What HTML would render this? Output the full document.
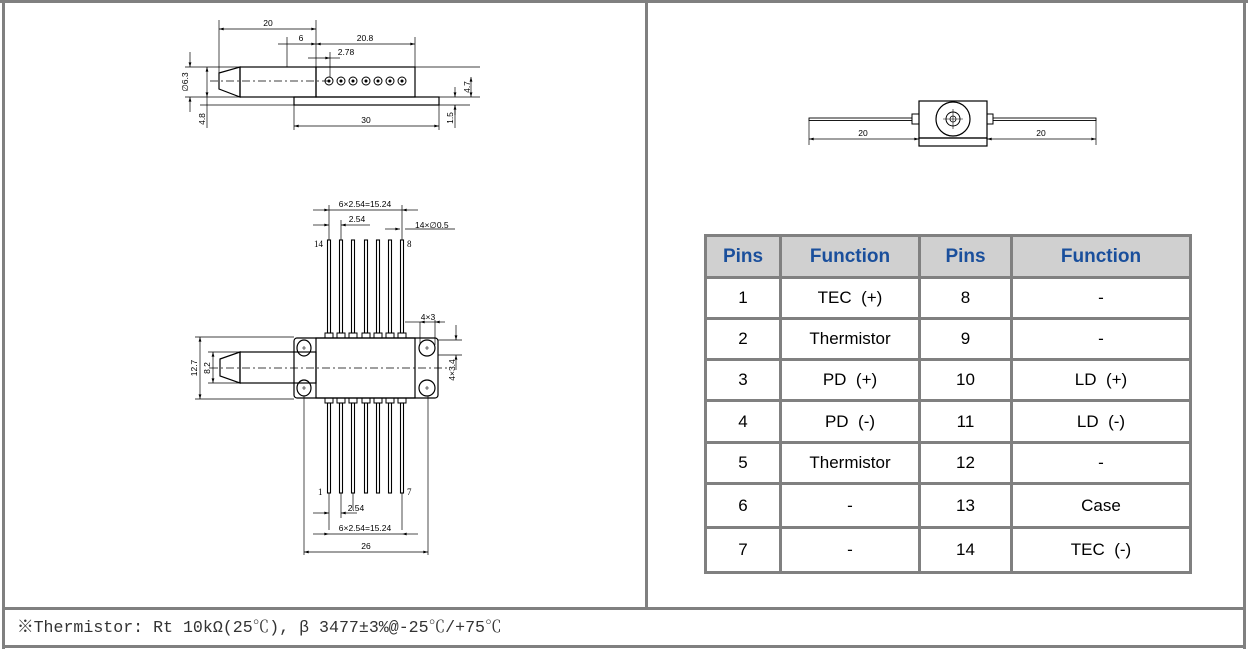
<!DOCTYPE html>
<html><head><meta charset="utf-8"><style>
html,body{margin:0;padding:0;background:#fff;}
body{width:1248px;height:654px;position:relative;overflow:hidden;font-family:"Liberation Sans",Arial,sans-serif;}
.b{position:absolute;background:#808080;}
.grid{position:absolute;left:704px;top:234px;display:grid;grid-template-columns:72px 136px 89px 176px;grid-template-rows:39px 38px 38px 38px 39px 38px 41px 42px;gap:3px;padding:3px;background:#808080;}
.grid div{background:#fff;display:flex;align-items:center;justify-content:center;font-size:17px;color:#000;line-height:20px;}
.grid div.h{background:#d0d0d0;color:#1a4f9c;font-weight:bold;font-size:19px;}
.foot{position:absolute;left:17px;top:618px;font-family:"Liberation Mono","Noto Serif CJK SC",monospace;font-size:16.6px;color:#333;white-space:nowrap;line-height:20px;}
svg{position:absolute;left:0;top:0;}
</style></head><body>
<div class="b" style="left:0;top:0;width:1248px;height:3px"></div>
<div class="b" style="left:2px;top:0;width:3px;height:649px"></div>
<div class="b" style="left:1243px;top:0;width:3px;height:649px"></div>
<div class="b" style="left:2px;top:645px;width:1244px;height:3px"></div>
<div class="b" style="left:645px;top:0;width:3px;height:609px"></div>
<div class="b" style="left:2px;top:607px;width:1244px;height:3px"></div>

<div class="grid">
<div class="h">Pins</div><div class="h">Function</div><div class="h">Pins</div><div class="h">Function</div>
<div>1</div><div>TEC&nbsp;&nbsp;(+)</div><div>8</div><div>-</div>
<div>2</div><div>Thermistor</div><div>9</div><div>-</div>
<div>3</div><div>PD&nbsp;&nbsp;(+)</div><div>10</div><div>LD&nbsp;&nbsp;(+)</div>
<div>4</div><div>PD&nbsp;&nbsp;(-)</div><div>11</div><div>LD&nbsp;&nbsp;(-)</div>
<div>5</div><div>Thermistor</div><div>12</div><div>-</div>
<div>6</div><div>-</div><div>13</div><div>Case</div>
<div>7</div><div>-</div><div>14</div><div>TEC&nbsp;&nbsp;(-)</div>
</div>

<div class="foot">※Thermistor: Rt 10kΩ(25℃), β 3477±3%@-25℃/+75℃</div>

<svg width="1248" height="654" viewBox="0 0 1248 654" font-family="Liberation Sans, Arial, sans-serif" font-size="8.5">
<defs>
<marker id="a" viewBox="0 0 10 6" refX="10" refY="3" markerWidth="8" markerHeight="4" orient="auto-start-reverse"><path d="M0,0 L10,3 L0,6 z" fill="#000"/></marker>
</defs>
<g stroke="#000" fill="none" stroke-width="0.7">
<path d="M219,73 L240,67 L240,97 L219,89 Z" stroke-width="1.2"/>
<rect x="240" y="67" width="76" height="30" stroke-width="1.2"/>
<rect x="316" y="67" width="99" height="30" stroke-width="1.2"/>
<rect x="294" y="97" width="145" height="8" stroke-width="1.2"/>
<line x1="210" y1="81" x2="330" y2="81" stroke-dasharray="8,3,2,3"/>
<g stroke-width="1">
<circle cx="329" cy="81" r="4"/><circle cx="341" cy="81" r="4"/><circle cx="353" cy="81" r="4"/><circle cx="366" cy="81" r="4"/><circle cx="378" cy="81" r="4"/><circle cx="390" cy="81" r="4"/><circle cx="402" cy="81" r="4"/>
</g>
<g fill="#000"><circle cx="329" cy="81" r="1.2"/><circle cx="341" cy="81" r="1.2"/><circle cx="353" cy="81" r="1.2"/><circle cx="366" cy="81" r="1.2"/><circle cx="378" cy="81" r="1.2"/><circle cx="390" cy="81" r="1.2"/><circle cx="402" cy="81" r="1.2"/></g>
<line x1="219" y1="20" x2="219" y2="73"/><line x1="316" y1="20" x2="316" y2="67"/><line x1="415" y1="37" x2="415" y2="67"/><line x1="287" y1="37" x2="287" y2="67"/><line x1="330" y1="52" x2="330" y2="77"/>
<line x1="219" y1="29" x2="316" y2="29" marker-start="url(#a)" marker-end="url(#a)"/>
<line x1="278" y1="44" x2="316" y2="44" marker-end="url(#a)"/>
<line x1="316" y1="44" x2="415" y2="44" marker-start="url(#a)" marker-end="url(#a)"/>
<line x1="308" y1="58" x2="330" y2="58" marker-end="url(#a)"/><line x1="330" y1="58" x2="340" y2="58"/>
<line x1="185" y1="67" x2="240" y2="67"/><line x1="185" y1="97" x2="294" y2="97"/><line x1="200" y1="105" x2="294" y2="105"/>
<line x1="190" y1="52" x2="190" y2="67" marker-end="url(#a)"/><line x1="190" y1="112" x2="190" y2="97" marker-end="url(#a)"/>
<line x1="207" y1="67" x2="207" y2="97" marker-start="url(#a)" marker-end="url(#a)"/><line x1="207" y1="97" x2="207" y2="128"/>
<line x1="415" y1="67" x2="480" y2="67"/><line x1="415" y1="97" x2="480" y2="97"/><line x1="439" y1="105" x2="470" y2="105"/>
<line x1="471" y1="77" x2="471" y2="97" marker-start="url(#a)" marker-end="url(#a)"/>
<line x1="455" y1="87" x2="455" y2="97" marker-end="url(#a)"/><line x1="455" y1="115" x2="455" y2="105" marker-end="url(#a)"/><line x1="455" y1="105" x2="455" y2="128"/>
<line x1="294" y1="105" x2="294" y2="130"/><line x1="439" y1="105" x2="439" y2="130"/>
<line x1="294" y1="126" x2="439" y2="126" marker-start="url(#a)" marker-end="url(#a)"/>

<path d="M220,359 L240,352 L240,383 L220,376 Z" stroke-width="1.2"/>
<rect x="240" y="352" width="76" height="31" stroke-width="1.2"/>
<rect x="294" y="338" width="144" height="60" rx="3" stroke-width="1.2"/>
<rect x="316" y="338" width="99" height="60" stroke-width="1.2"/>
<line x1="210" y1="368" x2="450" y2="368" stroke-dasharray="8,3,2,3"/>
<g stroke-width="1.2">
<ellipse cx="304" cy="348" rx="7" ry="8"/><ellipse cx="304" cy="388" rx="7" ry="8"/>
<ellipse cx="427" cy="348" rx="8" ry="8"/><ellipse cx="427" cy="388" rx="8" ry="8"/>
</g>
<g stroke-width="0.6">
<path d="M302,348h4M304,346v4M302,388h4M304,386v4M425,348h4M427,346v4M425,388h4M427,386v4"/>
</g>
<g stroke-width="1">
<rect x="325" y="333" width="8" height="5"/><rect x="337" y="333" width="8" height="5"/><rect x="349" y="333" width="8" height="5"/><rect x="362" y="333" width="8" height="5"/><rect x="374" y="333" width="8" height="5"/><rect x="386" y="333" width="8" height="5"/><rect x="398" y="333" width="8" height="5"/>
<rect x="325" y="398" width="8" height="5"/><rect x="337" y="398" width="8" height="5"/><rect x="349" y="398" width="8" height="5"/><rect x="362" y="398" width="8" height="5"/><rect x="374" y="398" width="8" height="5"/><rect x="386" y="398" width="8" height="5"/><rect x="398" y="398" width="8" height="5"/>
</g>
<g stroke-width="1.1">
<rect x="327.5" y="240" width="3" height="93"/><rect x="339.5" y="240" width="3" height="93"/><rect x="351.5" y="240" width="3" height="93"/><rect x="364.5" y="240" width="3" height="93"/><rect x="376.5" y="240" width="3" height="93"/><rect x="388.5" y="240" width="3" height="93"/><rect x="400.5" y="240" width="3" height="93"/>
<rect x="327.5" y="403" width="3" height="90"/><rect x="339.5" y="403" width="3" height="90"/><rect x="351.5" y="403" width="3" height="90"/><rect x="364.5" y="403" width="3" height="90"/><rect x="376.5" y="403" width="3" height="90"/><rect x="388.5" y="403" width="3" height="90"/><rect x="400.5" y="403" width="3" height="90"/>
</g>
<line x1="329" y1="205" x2="329" y2="240"/><line x1="402" y1="205" x2="402" y2="240"/><line x1="341" y1="220" x2="341" y2="240"/>
<line x1="313" y1="210" x2="329" y2="210" marker-end="url(#a)"/><line x1="329" y1="210" x2="402" y2="210"/><line x1="418" y1="210" x2="402" y2="210" marker-end="url(#a)"/>
<line x1="313" y1="225" x2="329" y2="225" marker-end="url(#a)"/><line x1="357" y1="225" x2="341" y2="225" marker-end="url(#a)"/><line x1="357" y1="225" x2="370" y2="225"/>
<line x1="385" y1="229" x2="400" y2="229" marker-end="url(#a)"/><line x1="405" y1="229" x2="455" y2="229"/>
<line x1="405" y1="322" x2="420" y2="322"/>
<line x1="420" y1="322" x2="435" y2="322" marker-start="url(#a)"/><line x1="445" y1="322" x2="435" y2="322" marker-end="url(#a)"/>
<line x1="420" y1="322" x2="420" y2="345"/><line x1="435" y1="320" x2="435" y2="345"/>
<line x1="438" y1="340" x2="462" y2="340"/><line x1="438" y1="355" x2="462" y2="355"/>
<line x1="456" y1="325" x2="456" y2="340" marker-end="url(#a)"/><line x1="456" y1="370" x2="456" y2="355" marker-end="url(#a)"/>
<line x1="195" y1="337" x2="294" y2="337"/><line x1="195" y1="399" x2="294" y2="399"/>
<line x1="200" y1="337" x2="200" y2="399" marker-start="url(#a)" marker-end="url(#a)"/>
<line x1="208" y1="352" x2="240" y2="352"/><line x1="208" y1="383" x2="240" y2="383"/>
<line x1="213" y1="352" x2="213" y2="383" marker-start="url(#a)" marker-end="url(#a)"/>
<line x1="329" y1="493" x2="329" y2="530"/><line x1="402" y1="493" x2="402" y2="530"/><line x1="341" y1="493" x2="341" y2="518"/><line x1="353" y1="493" x2="353" y2="510"/>
<line x1="313" y1="513" x2="329" y2="513" marker-end="url(#a)"/><line x1="357" y1="513" x2="341" y2="513" marker-end="url(#a)"/>
<line x1="313" y1="534" x2="329" y2="534" marker-end="url(#a)"/><line x1="329" y1="534" x2="402" y2="534"/><line x1="418" y1="534" x2="402" y2="534" marker-end="url(#a)"/>
<line x1="304" y1="396" x2="304" y2="555"/><line x1="428" y1="396" x2="428" y2="555"/>
<line x1="304" y1="552" x2="428" y2="552" marker-start="url(#a)" marker-end="url(#a)"/>

<rect x="809" y="118" width="103" height="2.5" stroke-width="0.9"/>
<rect x="993" y="118" width="103" height="2.5" stroke-width="0.9"/>
<rect x="912" y="114" width="7" height="10" stroke-width="1"/>
<rect x="987" y="114" width="6" height="10" stroke-width="1"/>
<rect x="919" y="101" width="68" height="37" stroke-width="1.2"/>
<rect x="919" y="138" width="68" height="8" stroke-width="1.2"/>
<circle cx="953" cy="119" r="17" stroke-width="1.2"/>
<circle cx="953" cy="119" r="7" stroke-width="1"/>
<circle cx="953" cy="119" r="3" stroke-width="0.8"/>
<path d="M943,119h20M953,109v20" stroke-width="0.6"/>
<line x1="809" y1="120" x2="809" y2="145"/><line x1="1096" y1="120" x2="1096" y2="145"/>
<line x1="809" y1="139" x2="919" y2="139" marker-start="url(#a)" marker-end="url(#a)"/>
<line x1="987" y1="139" x2="1096" y2="139" marker-start="url(#a)" marker-end="url(#a)"/>
</g>
<g fill="#000">
<text x="268" y="26" text-anchor="middle">20</text>
<text x="301" y="41" text-anchor="middle">6</text>
<text x="365" y="41" text-anchor="middle">20.8</text>
<text x="346" y="55" text-anchor="middle">2.78</text>
<text x="366" y="123" text-anchor="middle">30</text>
<text transform="translate(188,82) rotate(-90)" text-anchor="middle">∅6.3</text>
<text transform="translate(205,119) rotate(-90)" text-anchor="middle">4.8</text>
<text transform="translate(470,87) rotate(-90)" text-anchor="middle">4.7</text>
<text transform="translate(453,118) rotate(-90)" text-anchor="middle">1.5</text>
<text x="365" y="207" text-anchor="middle">6×2.54=15.24</text>
<text x="357" y="222" text-anchor="middle">2.54</text>
<text x="415" y="228">14×∅0.5</text>
<text x="428" y="320" text-anchor="middle">4×3</text>
<text transform="translate(455,370) rotate(-90)" text-anchor="middle">4×3.4</text>
<text transform="translate(197,368) rotate(-90)" text-anchor="middle">12.7</text>
<text transform="translate(210,368) rotate(-90)" text-anchor="middle">8.2</text>
<text x="356" y="511" text-anchor="middle">2.54</text>
<text x="365" y="531" text-anchor="middle">6×2.54=15.24</text>
<text x="366" y="549" text-anchor="middle">26</text>
<text x="863" y="136" text-anchor="middle">20</text>
<text x="1041" y="136" text-anchor="middle">20</text>
<g font-family="Liberation Serif, serif" font-size="9">
<text x="314" y="247">14</text><text x="407" y="247">8</text>
<text x="318" y="495">1</text><text x="407" y="495">7</text>
</g>
</g>
</svg>
</body></html>
